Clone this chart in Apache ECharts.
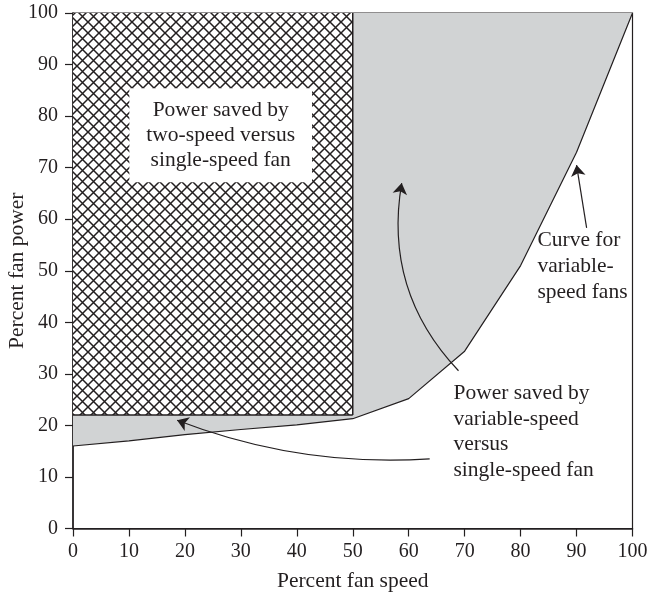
<!DOCTYPE html>
<html>
<head>
<meta charset="utf-8">
<script src="https://cdn.jsdelivr.net/npm/echarts@6/dist/echarts.min.js"></script>
<style>
  html, body { margin: 0; padding: 0; background: #fff; }
  #chart { width: 649px; height: 597px; }
</style>
</head>
<body>
<div id="chart"></div>
<script>
// ---- data ----
const speed = [0, 10, 20, 30, 40, 50, 60, 70, 80, 90, 100];
const power = [16, 17, 18.2, 19.2, 20.1, 21.3, 25.2, 34.4, 51, 73, 100];
const twoSpeedX = [0, 50];
const twoSpeedLevel = 22;
const axisTicks = [0, 10, 20, 30, 40, 50, 60, 70, 80, 90, 100];

const xName = 'Percent fan speed';
const yName = 'Percent fan power';
const note1 = ['Power saved by', 'two-speed versus', 'single-speed fan'];
const note2 = ['Power saved by', 'variable-speed', 'versus', 'single-speed fan'];
const note3 = ['Curve for', 'variable-', 'speed fans'];

// anchor points (data units) for notes and arrows
const note1At = [26.4, 76.3];
const note2At = [68.0, 18.7];
const note3At = [83.0, 50.9];
const arrow1 = [[68.9, 30.6], [58.75, 67.0]];
const arrow2 = [[63.75, 13.5], [18.6, 21.0]];
const arrow3 = [[91.8, 58.3], [90.0, 70.5]];

// ---- hatch pattern ----
function makeHatch() {
  const n = 11;
  const c = document.createElement('canvas');
  c.width = n; c.height = n;
  const g = c.getContext('2d');
  g.fillStyle = '#ffffff';
  g.fillRect(0, 0, n, n);
  g.strokeStyle = '#231f20';
  g.lineWidth = 1.5;
  g.beginPath();
  g.moveTo(-1, -1); g.lineTo(n + 1, n + 1);
  g.moveTo(n + 1, -1); g.lineTo(-1, n + 1);
  g.stroke();
  return c;
}

const ink = '#231f20';
const font = '"Liberation Serif", "Times New Roman", serif';
const textSize = 21.5;
const curve = speed.map((s, i) => [s, power[i]]);

const chart = echarts.init(document.getElementById('chart'), null, { renderer: 'canvas' });
chart.setOption({
  animation: false,
  backgroundColor: '#ffffff',
  grid: {
    left: 73, right: 16.5, top: 13, bottom: 68.5,
    containLabel: false, outerBoundsMode: 'none',
    show: true, borderColor: ink, borderWidth: 1.2, backgroundColor: 'transparent'
  },
  xAxis: {
    type: 'value', min: 0, max: 100, interval: 10,
    name: xName, nameLocation: 'middle', nameGap: 42, nameMoveOverlap: false,
    nameTextStyle: { fontFamily: font, fontSize: textSize, color: ink },
    axisLine: { show: true, onZero: false, lineStyle: { color: ink, width: 1.5 } },
    axisTick: { show: true, inside: false, length: 8, lineStyle: { color: ink, width: 1.2 } },
    axisLabel: { margin: 13, fontFamily: font, fontSize: 20, color: ink },
    splitLine: { show: false }
  },
  yAxis: {
    type: 'value', min: 0, max: 100, interval: 10,
    name: yName, nameLocation: 'middle', nameGap: 45, nameMoveOverlap: false,
    nameTextStyle: { fontFamily: font, fontSize: textSize, color: ink },
    axisLine: { show: true, onZero: false, lineStyle: { color: ink, width: 1.5 } },
    axisTick: { show: true, inside: false, length: 8, lineStyle: { color: ink, width: 1.2 } },
    axisLabel: { margin: 15, fontFamily: font, fontSize: 20, color: ink },
    splitLine: { show: false }
  },
  series: [
    {
      type: 'line', data: curve, symbol: 'none', z: 1,
      lineStyle: { color: ink, width: 1.2 },
      areaStyle: { origin: 'end', color: '#d1d3d4', opacity: 1 }
    },
    {
      type: 'line', data: twoSpeedX.map(x => [x, twoSpeedLevel]), symbol: 'none', z: 2,
      lineStyle: { color: ink, width: 1.5 },
      areaStyle: { origin: 'end', color: { image: makeHatch(), repeat: 'repeat' }, opacity: 1 }
    },
    {
      type: 'line', data: [[twoSpeedX[1], twoSpeedLevel], [twoSpeedX[1], 100]], symbol: 'none', z: 3,
      lineStyle: { color: ink, width: 1.5 }
    },
    {
      type: 'lines', coordinateSystem: 'cartesian2d', z: 5,
      symbol: ['none', 'arrow'], symbolSize: [0, 11],
      lineStyle: { color: ink, width: 1.2, opacity: 1 },
      data: [
        { coords: arrow1, lineStyle: { curveness: 0.25 } },
        { coords: arrow2, lineStyle: { curveness: 0.11 } },
        { coords: arrow3, lineStyle: { curveness: 0 } }
      ]
    },
    {
      type: 'scatter', symbolSize: 0, z: 6, silent: true,
      itemStyle: { opacity: 1 },
      data: [
        { value: note1At, label: {
          show: true, position: 'inside', align: 'center', verticalAlign: 'middle',
          formatter: note1.join('\n'), fontFamily: font, fontSize: textSize, lineHeight: 25, color: ink,
          backgroundColor: '#ffffff', padding: [10, 17, 9, 17], opacity: 1
        } },
        { value: note2At, label: {
          show: true, position: 'right', distance: 0, align: 'left', verticalAlign: 'middle',
          formatter: note2.join('\n'), fontFamily: font, fontSize: textSize, lineHeight: 25.5, color: ink, opacity: 1
        } },
        { value: note3At, label: {
          show: true, position: 'right', distance: 0, align: 'left', verticalAlign: 'middle',
          formatter: note3.join('\n'), fontFamily: font, fontSize: textSize, lineHeight: 26, color: ink, opacity: 1
        } }
      ]
    }
  ]
});
</script>
</body>
</html>
